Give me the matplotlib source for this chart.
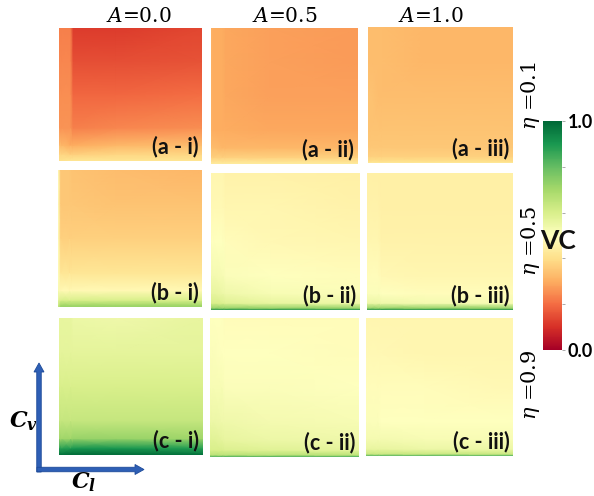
import numpy as np
import matplotlib
matplotlib.use("Agg")
import matplotlib.pyplot as plt
from matplotlib.patches import FancyArrow

plt.rcParams['mathtext.fontset'] = 'dejavuserif'

# ---- data (VC values; rows bottom (Cv=0) -> top (Cv=1)) ----
cl_levels = [0.0, 0.02, 0.08, 0.10, 0.40, 1.0]
cv_levels = [0.0, 0.015, 0.05, 0.12, 0.25, 0.5, 0.75, 1.0]

vc_a_i = [
    [0.41, 0.41, 0.42, 0.42, 0.42, 0.42],
    [0.40, 0.40, 0.41, 0.41, 0.41, 0.41],
    [0.38, 0.38, 0.37, 0.37, 0.38, 0.38],
    [0.33, 0.32, 0.30, 0.30, 0.32, 0.33],
    [0.26, 0.26, 0.26, 0.23, 0.24, 0.25],
    [0.25, 0.25, 0.25, 0.19, 0.19, 0.20],
    [0.24, 0.24, 0.24, 0.15, 0.15, 0.16],
    [0.23, 0.23, 0.23, 0.12, 0.12, 0.14],
]
vc_a_ii = [
    [0.44, 0.44, 0.44, 0.44, 0.44, 0.44],
    [0.42, 0.42, 0.42, 0.42, 0.42, 0.42],
    [0.37, 0.37, 0.37, 0.37, 0.37, 0.37],
    [0.33, 0.33, 0.32, 0.32, 0.32, 0.32],
    [0.31, 0.30, 0.30, 0.30, 0.29, 0.29],
    [0.31, 0.30, 0.30, 0.29, 0.28, 0.28],
    [0.31, 0.30, 0.30, 0.29, 0.28, 0.27],
    [0.31, 0.30, 0.30, 0.29, 0.28, 0.27],
]
vc_a_iii = [
    [0.43, 0.43, 0.43, 0.43, 0.43, 0.43],
    [0.40, 0.40, 0.40, 0.40, 0.40, 0.40],
    [0.37, 0.37, 0.37, 0.37, 0.37, 0.37],
    [0.35, 0.35, 0.35, 0.35, 0.35, 0.35],
    [0.34, 0.34, 0.34, 0.34, 0.34, 0.34],
    [0.34, 0.34, 0.33, 0.33, 0.33, 0.33],
    [0.33, 0.33, 0.33, 0.33, 0.32, 0.32],
    [0.33, 0.33, 0.33, 0.33, 0.32, 0.32],
]
vc_b_i = [
    [0.64, 0.72, 0.72, 0.72, 0.72, 0.72],
    [0.62, 0.70, 0.70, 0.70, 0.70, 0.70],
    [0.57, 0.60, 0.60, 0.60, 0.60, 0.60],
    [0.52, 0.48, 0.48, 0.48, 0.48, 0.48],
    [0.50, 0.42, 0.42, 0.42, 0.42, 0.42],
    [0.50, 0.37, 0.37, 0.37, 0.37, 0.37],
    [0.50, 0.35, 0.35, 0.35, 0.34, 0.34],
    [0.50, 0.35, 0.35, 0.34, 0.33, 0.32],
]
vc_b_ii = [
    [0.93, 0.93, 0.93, 0.93, 0.93, 0.93],
    [0.72, 0.72, 0.72, 0.72, 0.72, 0.72],
    [0.60, 0.60, 0.59, 0.58, 0.56, 0.55],
    [0.56, 0.56, 0.55, 0.54, 0.52, 0.51],
    [0.53, 0.53, 0.52, 0.51, 0.50, 0.49],
    [0.50, 0.50, 0.50, 0.49, 0.48, 0.47],
    [0.48, 0.48, 0.48, 0.47, 0.47, 0.46],
    [0.47, 0.47, 0.47, 0.46, 0.46, 0.45],
]
vc_b_iii = [
    [0.93, 0.93, 0.93, 0.93, 0.93, 0.93],
    [0.72, 0.72, 0.72, 0.72, 0.72, 0.72],
    [0.55, 0.55, 0.55, 0.54, 0.53, 0.52],
    [0.51, 0.51, 0.51, 0.50, 0.49, 0.49],
    [0.49, 0.49, 0.49, 0.48, 0.47, 0.47],
    [0.47, 0.47, 0.47, 0.46, 0.46, 0.46],
    [0.46, 0.46, 0.46, 0.45, 0.45, 0.45],
    [0.45, 0.45, 0.45, 0.45, 0.45, 0.45],
]
vc_c_i = [
    [0.99, 0.99, 0.99, 0.99, 0.99, 0.99],
    [0.95, 0.95, 0.97, 0.97, 0.97, 0.95],
    [0.88, 0.88, 0.89, 0.90, 0.90, 0.88],
    [0.71, 0.71, 0.71, 0.72, 0.72, 0.71],
    [0.64, 0.64, 0.64, 0.64, 0.64, 0.64],
    [0.60, 0.60, 0.60, 0.60, 0.60, 0.60],
    [0.57, 0.57, 0.57, 0.57, 0.57, 0.57],
    [0.56, 0.56, 0.56, 0.55, 0.54, 0.56],
]
vc_c_ii = [
    [0.86, 0.86, 0.86, 0.86, 0.86, 0.86],
    [0.66, 0.66, 0.66, 0.66, 0.66, 0.66],
    [0.60, 0.60, 0.60, 0.59, 0.58, 0.57],
    [0.58, 0.58, 0.57, 0.56, 0.55, 0.54],
    [0.55, 0.55, 0.54, 0.54, 0.53, 0.52],
    [0.52, 0.52, 0.52, 0.51, 0.51, 0.50],
    [0.51, 0.51, 0.50, 0.50, 0.50, 0.49],
    [0.50, 0.50, 0.50, 0.49, 0.49, 0.49],
]
vc_c_iii = [
    [0.85, 0.85, 0.85, 0.85, 0.85, 0.85],
    [0.63, 0.63, 0.63, 0.63, 0.63, 0.63],
    [0.56, 0.56, 0.56, 0.56, 0.55, 0.55],
    [0.53, 0.53, 0.53, 0.53, 0.52, 0.52],
    [0.51, 0.51, 0.51, 0.50, 0.50, 0.50],
    [0.49, 0.49, 0.49, 0.49, 0.49, 0.48],
    [0.48, 0.48, 0.48, 0.48, 0.47, 0.47],
    [0.47, 0.47, 0.47, 0.47, 0.47, 0.47],
]

col_titles = ["0.0", "0.5", "1.0"]
row_titles = ["0.1", "0.5", "0.9"]
panel_labels = [["(a - i)", "(a - ii)", "(a - iii)"],
                ["(b - i)", "(b - ii)", "(b - iii)"],
                ["(c - i)", "(c - ii)", "(c - iii)"]]
panel_values = [[vc_a_i, vc_a_ii, vc_a_iii],
                [vc_b_i, vc_b_ii, vc_b_iii],
                [vc_c_i, vc_c_ii, vc_c_iii]]
cbar_ticks = [0.0, 0.2, 0.4, 0.6, 0.8, 1.0]

# ---- layout (pixel boxes: left, top, right, bottom) ----
W, H = 594, 496
boxes = [[(59, 28, 202, 161), (211, 28, 358, 164), (368, 27, 513, 163)],
         [(58, 170, 202, 307), (211, 173, 360, 310), (367, 173, 513, 310)],
         [(59, 318, 203, 455), (210, 318, 359, 457), (366, 318, 513, 456)]]

def fbox(b):
    l, t, r, bt = b
    return [l / W, 1 - bt / H, (r - l) / W, (bt - t) / H]

fig = plt.figure(figsize=(W / 100, H / 100), dpi=100)
cmap = plt.get_cmap('RdYlGn')
X, Y = np.meshgrid(cl_levels, cv_levels)

mesh = None
for i in range(3):
    for j in range(3):
        ax = fig.add_axes(fbox(boxes[i][j]))
        Z = np.array(panel_values[i][j])
        mesh = ax.pcolormesh(X, Y, Z, cmap=cmap, vmin=0, vmax=1, shading='gouraud')
        ax.set_xlim(0, 1)
        ax.set_ylim(0, 1)
        ax.set_xticks([])
        ax.set_yticks([])
        for s in ax.spines.values():
            s.set_visible(False)
        ax.text(0.975, 0.025, panel_labels[i][j], transform=ax.transAxes,
                ha='right', va='bottom', fontsize=15.5, fontweight='bold',
                family='Lato', color='#111111')

# column titles
col_centers = [139, 285, 431]
for j in range(3):
    fig.text(col_centers[j] / W, 1 - 17 / H, r'$A$=' + col_titles[j],
             ha='center', va='center', fontsize=14.5, family='DejaVu Serif')

# row titles
row_centers = [96, 241, 385]
for i in range(3):
    fig.text(530 / W, 1 - row_centers[i] / H, r'$\eta$ =' + row_titles[i],
             ha='center', va='center', rotation=90, fontsize=15,
             family='DejaVu Serif')

# colorbar
cax = fig.add_axes(fbox((543, 121, 562, 350)))
cb = fig.colorbar(mesh, cax=cax, ticks=cbar_ticks)
cb.outline.set_visible(False)
cb.ax.tick_params(length=2, width=0.5, color='#888888', labelsize=13, pad=2)
cb.ax.set_yticklabels(["0.0", "", "", "", "", "1.0"])
for lab in cb.ax.get_yticklabels():
    lab.set_fontweight('bold')
    lab.set_family('Lato')
fig.text(558 / W, 1 - 241 / H, "VC", ha='center', va='center',
         fontsize=19, fontweight='bold', family='Lato', color='#111111')

# axis arrows overlay
ov = fig.add_axes([0, 0, 1, 1])
ov.set_xlim(0, W)
ov.set_ylim(H, 0)
ov.axis('off')
ov.patch.set_alpha(0)
blue = '#2e5fb5'
edge = '#1d4a99'
ov.add_patch(FancyArrow(39, 472, 0, -100, width=4.5, head_width=10, head_length=9,
                        length_includes_head=False, fc=blue, ec=edge, lw=0.6))
ov.add_patch(FancyArrow(37, 469.5, 98, 0, width=4.5, head_width=10, head_length=9,
                        length_includes_head=False, fc=blue, ec=edge, lw=0.6))
ov.text(24, 421, r'$\mathbfit{C}_{\mathbfit{v}}$', ha='center', va='center', fontsize=16)
ov.text(84, 482, r'$\mathbfit{C}_{\mathbfit{l}}$', ha='center', va='center', fontsize=16)

fig.savefig('out.png', dpi=100)
